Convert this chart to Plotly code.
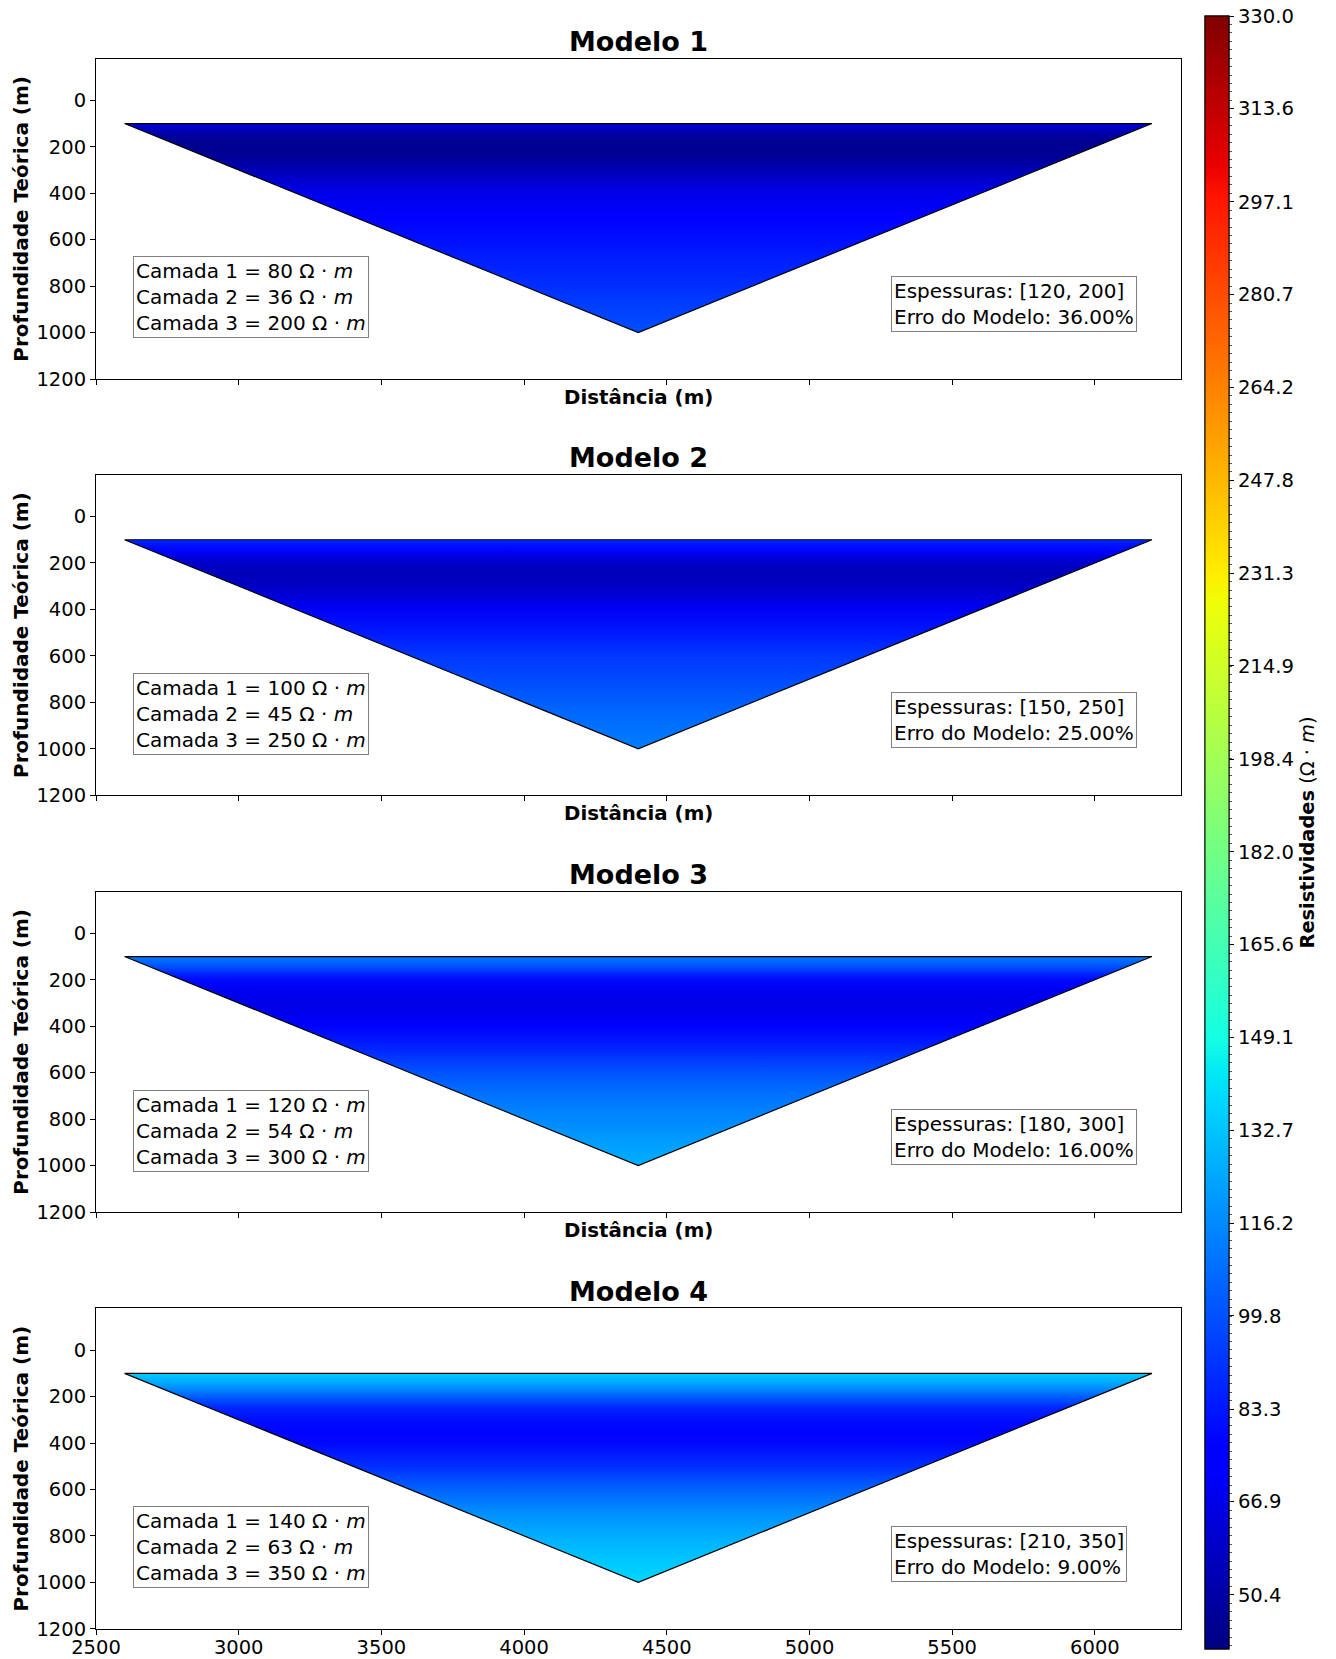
import numpy as np
import plotly.graph_objects as go
from plotly.colors import sample_colorscale

# ---------------- data ----------------
model_names = ["Modelo 1", "Modelo 2", "Modelo 3", "Modelo 4"]
rho_layers = [[80, 36, 200], [100, 45, 250], [120, 54, 300], [140, 63, 350]]
thicknesses = [[120, 200], [150, 250], [180, 300], [210, 350]]
model_error = [36.00, 25.00, 16.00, 9.00]

# pseudosection triangle (distance, theoretical depth)
tri_x = [2600, 6200, 4400]
tri_depth = [100, 100, 1000]

# apparent resistivity read (by colour) along depth, per model
depth = [100, 125, 150, 175, 200, 250, 300, 350, 400, 500, 600, 700, 800, 900, 1000]
rho_app_1 = [65, 56, 48.5, 45.5, 44.5, 47, 54, 61, 67, 75, 81, 86, 90, 95, 99]
rho_app_2 = [88.8, 81.3, 71.3, 63.8, 58.8, 55.6, 57.5, 63.8, 70.6, 83.8, 92.5, 98.1, 103.8, 108.8, 112.5]
rho_app_3 = [112.5, 105, 97.5, 87, 79.5, 69, 66.8, 68.3, 73.5, 87.8, 100.5, 109.5, 115.5, 121.5, 126.8]
rho_app_4 = [134.8, 128.6, 121.6, 113.8, 103.3, 87.5, 80.5, 77.9, 79.3, 90.1, 105, 117.3, 126, 133, 138.3]
rho_app = [rho_app_1, rho_app_2, rho_app_3, rho_app_4]

cbar_min, cbar_max = 40.8, 330.0
cbar_ticks = [50.4, 66.9, 83.3, 99.8, 116.2, 132.7, 149.1, 165.6, 182.0, 198.4,
              214.9, 231.3, 247.8, 264.2, 280.7, 297.1, 313.6, 330.0]

x_ticks = [2500, 3000, 3500, 4000, 4500, 5000, 5500, 6000]
y_ticks = [0, 200, 400, 600, 800, 1000, 1200]

# matplotlib "jet"
jet = [
    [0.0, "rgb(0,0,128)"], [0.11, "rgb(0,0,255)"], [0.125, "rgb(0,0,255)"],
    [0.34, "rgb(0,219,255)"], [0.35, "rgb(0,230,247)"], [0.375, "rgb(21,255,226)"],
    [0.64, "rgb(239,255,8)"], [0.65, "rgb(247,246,0)"], [0.66, "rgb(255,236,0)"],
    [0.89, "rgb(255,19,0)"], [0.91, "rgb(232,0,0)"], [1.0, "rgb(128,0,0)"],
]

# ---------------- layout geometry ----------------
W, H = 1336, 1659
FONT = "DejaVu Sans"
x_dom = [96 / W, 1180.5 / W]
panel_tops = [58.5, 474.7, 891.5, 1308.3]
panel_h = 320.5
ax_w = 1084.5

fig = go.Figure()

layout = dict(
    width=W, height=H,
    margin=dict(l=0, r=0, t=0, b=0),
    paper_bgcolor="white", plot_bgcolor="white",
    showlegend=False,
    font=dict(family=FONT, color="black"),
)
annotations = []

for i in range(4):
    top = panel_tops[i]
    bot = top + panel_h
    y_dom = [1 - bot / H, 1 - top / H]
    sfx = "" if i == 0 else str(i + 1)
    xname, yname = "x" + sfx, "y" + sfx

    layout["xaxis" + sfx] = dict(
        domain=x_dom, range=[2500, 6300], anchor=yname,
        tickvals=x_ticks, ticks="outside", ticklen=5, tickwidth=1, tickcolor="black",
        showticklabels=(i == 3), tickfont=dict(size=19.5, family=FONT, color="black"),
        ticklabelstandoff=-4,
        showline=True, linecolor="black", linewidth=1, mirror=True,
        showgrid=False, zeroline=False, automargin=False,
    )
    layout["yaxis" + sfx] = dict(
        domain=y_dom, range=[1200, -180], anchor=xname,
        tickvals=y_ticks, ticks="outside", ticklen=5, tickwidth=1, tickcolor="black",
        tickfont=dict(size=19.5, family=FONT, color="black"),
        showline=True, linecolor="black", linewidth=1, mirror=True,
        showgrid=False, zeroline=False, automargin=False,
    )

    vals = rho_app[i]
    norm = [(v - cbar_min) / (cbar_max - cbar_min) for v in vals]
    cols = sample_colorscale(jet, norm)
    pos = [(d - depth[0]) / (depth[-1] - depth[0]) for d in depth]
    cs = [[p, c] for p, c in zip(pos, cols)]

    fig.add_trace(go.Scatter(
        x=tri_x + [tri_x[0]], y=tri_depth + [tri_depth[0]],
        mode="lines", fill="toself",
        fillgradient=dict(type="vertical", colorscale=cs, start=depth[0], stop=depth[-1]),
        line=dict(color="black", width=1.2),
        xaxis=xname, yaxis=yname, hoverinfo="skip",
    ))

    # title
    annotations.append(dict(
        text="<b>%s</b>" % model_names[i], xref="paper", yref="paper",
        x=(x_dom[0] + x_dom[1]) / 2, y=1 - (top - 17) / H,
        xanchor="center", yanchor="middle", showarrow=False,
        font=dict(size=27, family=FONT, color="black"),
    ))
    # y label
    annotations.append(dict(
        text="<b>Profundidade Teórica (m)</b>", xref="paper", yref="paper",
        x=21 / W, y=1 - (top + panel_h / 2) / H, textangle=-90,
        xanchor="center", yanchor="middle", showarrow=False,
        font=dict(size=20, family=FONT, color="black"),
    ))
    # x label (panels 1-3)
    if i < 3:
        annotations.append(dict(
            text="<b>Distância (m)</b>", xref="paper", yref="paper",
            x=(x_dom[0] + x_dom[1]) / 2, y=1 - (bot + 18) / H,
            xanchor="center", yanchor="middle", showarrow=False,
            font=dict(size=19.8, family=FONT, color="black"),
        ))
    r1, r2, r3 = rho_layers[i]
    txt = ("Camada 1 = %d Ω · <i>m</i><br>Camada 2 = %d Ω · <i>m</i><br>"
           "Camada 3 = %d Ω · <i>m</i>") % (r1, r2, r3)
    annotations.append(dict(
        text=txt, xref=xname + " domain", yref=yname + " domain",
        x=(133 - 96) / ax_w, y=(bot - (top + 280)) / panel_h,
        xanchor="left", yanchor="bottom", align="left", showarrow=False,
        bgcolor="white", bordercolor="#7f7f7f", borderwidth=1, borderpad=2,
        font=dict(size=20, family=FONT, color="black"),
    ))
    t1, t2 = thicknesses[i]
    txt2 = "Espessuras: [%d, %d]<br>Erro do Modelo: %.2f%%" % (t1, t2, model_error[i])
    annotations.append(dict(
        text=txt2, xref=xname + " domain", yref=yname + " domain",
        x=(891 - 96) / ax_w, y=(bot - (top + 273.5)) / panel_h,
        xanchor="left", yanchor="bottom", align="left", showarrow=False,
        bgcolor="white", bordercolor="#7f7f7f", borderwidth=1, borderpad=2,
        font=dict(size=20, family=FONT, color="black"),
    ))

# colorbar (minor ticks then major ticks, same geometry)
cb_geom = dict(
    x=1205 / W, xanchor="left", xpad=0,
    y=1 - 832.5 / H, yanchor="middle", ypad=0,
    len=(1649 - 16) / H, lenmode="fraction",
    thickness=24, thicknessmode="pixels",
    outlinewidth=1, outlinecolor="black",
)
minor_step = (cbar_ticks[-1] - cbar_ticks[0]) / (len(cbar_ticks) - 1) / 11
minor_ticks = list(np.arange(cbar_max, cbar_min, -minor_step))

fig.add_trace(go.Scatter(
    x=[None], y=[None], mode="markers", hoverinfo="skip",
    marker=dict(color=[cbar_min, cbar_max], cmin=cbar_min, cmax=cbar_max,
                colorscale=jet, showscale=True,
                colorbar=dict(**cb_geom, tickvals=minor_ticks, ticks="outside",
                              ticklen=2.5, tickwidth=1, tickcolor="#555555",
                              showticklabels=False)),
))
fig.add_trace(go.Scatter(
    x=[None], y=[None], mode="markers", hoverinfo="skip",
    marker=dict(color=[cbar_min, cbar_max], cmin=cbar_min, cmax=cbar_max,
                colorscale=jet, showscale=True,
                colorbar=dict(**cb_geom, tickvals=cbar_ticks,
                              ticktext=["%.1f" % v for v in cbar_ticks],
                              ticks="outside", ticklen=5, tickwidth=1, tickcolor="black",
                              tickfont=dict(size=19.6, family=FONT, color="black"),
                              title=dict(text="<b>Resistividades</b> (Ω · <i>m</i>)",
                                         side="right",
                                         font=dict(size=19.4, family=FONT, color="black")))),
))

layout["annotations"] = annotations
fig.update_layout(**layout)
fig.write_html("out.html")
